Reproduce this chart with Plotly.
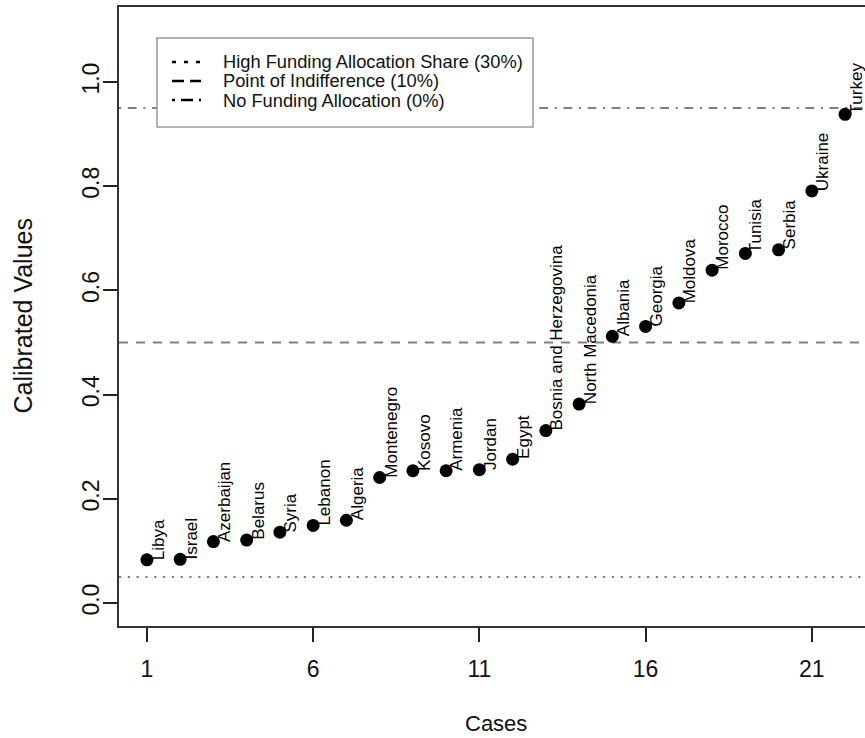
import plotly.graph_objects as go

# ---------------- data ----------------
countries = ["Libya", "Israel", "Azerbaijan", "Belarus", "Syria", "Lebanon", "Algeria",
             "Montenegro", "Kosovo", "Armenia", "Jordan", "Egypt", "Bosnia and Herzegovina",
             "North Macedonia", "Albania", "Georgia", "Moldova", "Morocco", "Tunisia",
             "Serbia", "Ukraine", "Turkey"]
cases = list(range(1, 23))
calibrated = [0.083, 0.084, 0.118, 0.121, 0.136, 0.149, 0.159, 0.241, 0.254, 0.254, 0.256,
              0.276, 0.331, 0.382, 0.512, 0.531, 0.576, 0.639, 0.671, 0.678, 0.791, 0.938]
thresholds = [0.05, 0.5, 0.95]
threshold_labels = ["High Funding Allocation Share (30%)",
                    "Point of Indifference (10%)",
                    "No Funding Allocation (0%)"]
x_ticks = [1, 6, 11, 16, 21]
y_ticks = [0.0, 0.2, 0.4, 0.6, 0.8, 1.0]

# ---------------- layout geometry ----------------
W, H = 865, 738
L, T, B = 119, 7, 112
plot_right_full = 873
xlo, xhi_full = 0.16, 22.84
ppu = (plot_right_full - L) / (xhi_full - xlo)
xhi = xlo + (W - L) / ppu
ylo, yhi = -0.044, 1.144

FONT = "Liberation Sans, Arial, Helvetica, sans-serif"
line_styles = ["2.2px,6.6px", "9px,8px", "2.2px,6.6px,8.8px,6.6px"]
legend_styles = ["4px,8px", "12px,6px", "3px,6px,12px,6px"]

pw = W - L
ph = H - T - B


def px2paper_x(px):
    return (px - L) / pw


def px2paper_y(py):
    return (H - B - py) / ph


fig = go.Figure()

fig.add_trace(go.Scatter(
    x=cases, y=calibrated, mode="markers",
    marker=dict(color="black", size=13, line=dict(width=0)),
    cliponaxis=False, showlegend=False, hoverinfo="skip"))

shapes = []
for val, dash in zip(thresholds, line_styles):
    shapes.append(dict(type="line", xref="paper", yref="y", x0=0, x1=1, y0=val, y1=val,
                       line=dict(color="#808080", width=2, dash=dash), layer="below"))

# legend box (manual)
shapes.append(dict(type="rect", xref="paper", yref="paper",
                   x0=px2paper_x(157), x1=px2paper_x(533),
                   y0=px2paper_y(127), y1=px2paper_y(38),
                   line=dict(color="#9a9a9a", width=1.5), fillcolor="white", layer="above"))
annotations = []
rows_y = [62, 81, 100]
for ry, dash, lab in zip(rows_y, legend_styles, threshold_labels):
    shapes.append(dict(type="line", xref="paper", yref="paper",
                       x0=px2paper_x(172), x1=px2paper_x(201),
                       y0=px2paper_y(ry), y1=px2paper_y(ry),
                       line=dict(color="black", width=2.5, dash=dash), layer="above"))
    annotations.append(dict(xref="paper", yref="paper", x=px2paper_x(221), y=px2paper_y(ry),
                            xanchor="left", yanchor="middle", text=lab, showarrow=False,
                            font=dict(family=FONT, size=18.3, color="#111")))

# country labels
for xc, yv, name in zip(cases, calibrated, countries):
    annotations.append(dict(x=xc, y=yv, xref="x", yref="y", text=name, textangle=-90,
                            xanchor="center", yanchor="bottom", xshift=11, yshift=-2,
                            showarrow=False, font=dict(family=FONT, size=17, color="black")))

# axis titles
annotations.append(dict(x=(xlo + xhi_full) / 2, y=0, xref="x", yref="paper",
                        text="Cases", showarrow=False, xanchor="center", yanchor="middle",
                        yshift=-(723 - (H - B)), font=dict(family=FONT, size=22, color="#111")))
annotations.append(dict(x=0, y=0.5, xref="paper", yref="paper", text="Calibrated Values",
                        textangle=-90, showarrow=False, xanchor="center", yanchor="middle",
                        xshift=-(L - 22), font=dict(family=FONT, size=25, color="#111")))

fig.update_layout(
    width=W, height=H,
    margin=dict(l=L, r=0, t=T, b=B, pad=0),
    paper_bgcolor="white", plot_bgcolor="white",
    font=dict(family=FONT, color="#111"),
    showlegend=False,
    shapes=shapes, annotations=annotations,
    xaxis=dict(range=[xlo, xhi], tickvals=x_ticks, ticktext=[str(v) for v in x_ticks],
               showgrid=False, zeroline=False, showline=True, mirror=True,
               linecolor="#333", linewidth=2, ticks="outside", ticklen=14,
               tickwidth=1.5, tickcolor="#222", tickfont=dict(family=FONT, size=23, color="#111"),
               ticklabelstandoff=7),
    yaxis=dict(range=[ylo, yhi], tickvals=y_ticks, ticktext=[f"{v:.1f}" for v in y_ticks],
               showgrid=False, zeroline=False, showline=True, mirror=False,
               linecolor="#333", linewidth=2, ticks="outside", ticklen=14,
               tickwidth=1.5, tickcolor="#222", tickangle=-90,
               tickfont=dict(family=FONT, size=23, color="#111"), ticklabelstandoff=-5),
)

fig.write_html("out.html")
